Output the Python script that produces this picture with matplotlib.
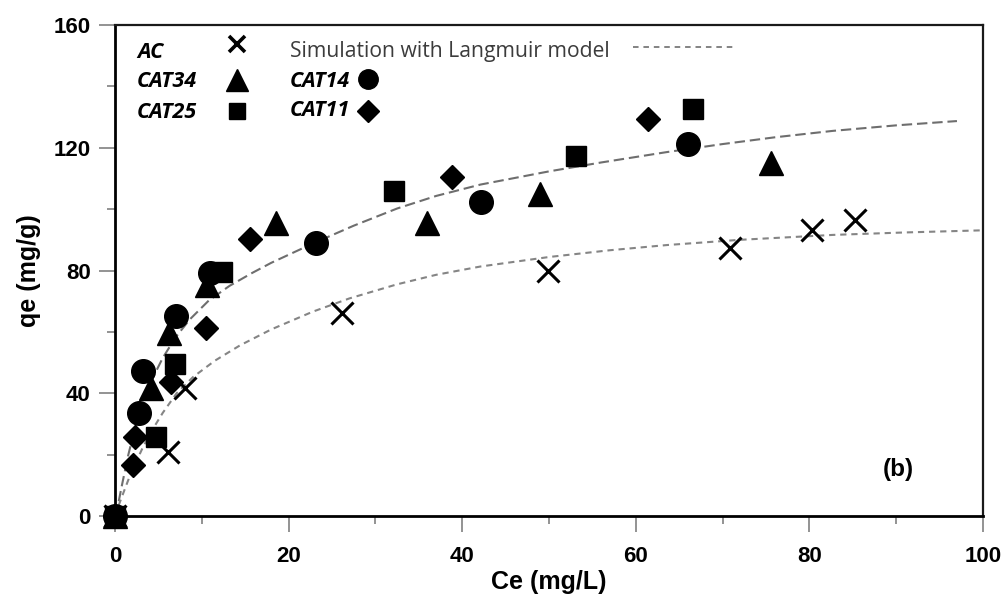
import matplotlib
matplotlib.use("Agg")
import matplotlib.pyplot as plt
from matplotlib.ticker import MultipleLocator

# experimental points (Ce in mg/L, qe in mg/g)
ac_x = [0, 6.1, 8.1, 26.1, 49.9, 70.9, 80.3, 85.3]
ac_y = [0, 20.8, 41.7, 66.1, 79.8, 87.3, 93.2, 96.4]

cat34_x = [0, 4.2, 6.2, 10.6, 18.5, 35.9, 49.0, 75.6]
cat34_y = [0, 41.8, 59.8, 75.2, 95.4, 95.4, 104.9, 115.0]

cat25_x = [0, 4.7, 6.9, 12.3, 32.1, 53.1, 66.6]
cat25_y = [0, 25.7, 49.5, 79.5, 105.9, 117.3, 132.6]

cat14_x = [0, 2.8, 3.2, 7.0, 10.9, 23.2, 42.2, 66.0]
cat14_y = [0, 33.5, 47.2, 65.1, 79.2, 88.9, 102.3, 121.2]

cat11_x = [0, 2.1, 2.3, 6.5, 10.5, 15.6, 38.8, 61.4]
cat11_y = [0, 16.6, 25.7, 43.6, 61.2, 90.2, 110.4, 129.3]

# Langmuir simulation curves
sim_hi_x = [0, 0.2, 0.8, 1.5, 2.2, 2.9, 4.0, 5.5, 7.0, 8.6, 10.8, 13.2, 15.8, 18.0,
            22.8, 27.5, 32.5, 37.0, 42.1, 50.0, 56.0, 63.6, 70.0, 76.0, 82.7, 90.0, 97.0]
sim_hi_y = [0, 1.5, 10.0, 19.5, 27.5, 34.5, 43.0, 51.5, 58.3, 64.0, 70.2, 75.0, 79.2, 82.5,
            88.8, 94.6, 100.2, 104.3, 108.0, 112.3, 115.2, 118.6, 121.2, 123.4, 125.5, 127.3, 128.7]

sim_lo_x = [0, 0.6, 1.5, 2.2, 3.2, 4.2, 5.5, 7.1, 9.0, 11.5, 14.4, 18.0, 22.8, 27.0,
            32.5, 37.0, 42.1, 50.0, 57.0, 63.6, 72.0, 82.7, 91.0, 100.0]
sim_lo_y = [0, 4.8, 11.5, 16.2, 22.3, 27.6, 33.6, 40.0, 45.3, 50.6, 55.6, 60.8, 66.6, 70.9,
            75.5, 78.6, 81.3, 84.4, 86.6, 88.3, 90.0, 91.6, 92.4, 93.1]

plt.rcParams["lines.scale_dashes"] = False

fig = plt.figure(figsize=(10.05, 6.01), dpi=100)
ax = fig.add_axes([0.1144, 0.1414, 0.8637, 0.8170])

ax.plot(sim_hi_x, sim_hi_y, color="#6e6e6e", lw=1.5, dashes=(7.5, 3.5))
ax.plot(sim_lo_x, sim_lo_y, color="#858585", lw=1.5, dashes=(4.5, 3.5))

mk = dict(linestyle="none", color="black", clip_on=False, zorder=3)
ax.plot(ac_x, ac_y, marker="x", markersize=16, markeredgewidth=2.2, **mk)
ax.plot(cat34_x, cat34_y, marker="^", markersize=17, **mk)
ax.plot(cat25_x, cat25_y, marker="s", markersize=15, **mk)
ax.plot(cat14_x, cat14_y, marker="o", markersize=17, **mk)
ax.plot(cat11_x, cat11_y, marker="D", markersize=12.5, **mk)

ax.set_xlim(0, 100)
ax.set_ylim(0, 160)
ax.xaxis.set_major_locator(MultipleLocator(20))
ax.xaxis.set_minor_locator(MultipleLocator(10))
ax.yaxis.set_major_locator(MultipleLocator(40))
ax.yaxis.set_minor_locator(MultipleLocator(20))

ax.tick_params(which="both", direction="out", color="#8a8a8a", width=1.3)
ax.tick_params(which="major", length=11.5)
ax.tick_params(which="minor", length=6)
ax.tick_params(axis="x", which="major", pad=10)
ax.tick_params(axis="y", which="major", pad=6)
for lab in ax.get_xticklabels() + ax.get_yticklabels():
    lab.set_fontfamily("Liberation Sans")
    lab.set_fontweight("bold")
    lab.set_fontsize(16)

for s in ax.spines.values():
    s.set_linewidth(1.6)
    s.set_color("#1a1a1a")
ax.spines["left"].set_linewidth(2)
ax.spines["bottom"].set_linewidth(2)
ax.spines["left"].set_color("black")
ax.spines["bottom"].set_color("black")

lab_font = dict(family="Liberation Sans", weight="bold", size=18)
ax.set_xlabel("Ce (mg/L)", labelpad=2, **lab_font)
ax.set_ylabel("qe (mg/g)", labelpad=9, **lab_font)

# legend, drawn by hand to keep its two-column layout
tr = ax.transAxes
leg_font = dict(family="Open Sans", style="italic", weight="bold", size=15.5,
                va="center", ha="left", transform=tr)
ax.text(0.0253, 0.944, "AC", **leg_font)
ax.text(0.0253, 0.885, "CAT34", **leg_font)
ax.text(0.0253, 0.822, "CAT25", **leg_font)
ax.text(0.2016, 0.885, "CAT14", **leg_font)
ax.text(0.2016, 0.825, "CAT11", **leg_font)
ax.text(0.2016, 0.947, "Simulation with Langmuir model", family="Open Sans", size=15.2,
        color="#3c3c3c", va="center", ha="left", transform=tr)

lk = dict(linestyle="none", color="black", transform=tr, clip_on=False)
ax.plot([0.1406], [0.9613], marker="x", markersize=11, markeredgewidth=2.6, **lk)
ax.plot([0.1406], [0.888], marker="^", markersize=16, **lk)
ax.plot([0.1406], [0.824], marker="s", markersize=11.5, **lk)
ax.plot([0.2915], [0.890], marker="o", markersize=14, **lk)
ax.plot([0.2915], [0.825], marker="D", markersize=11.5, **lk)
ax.plot([0.597, 0.7143], [0.955, 0.955], color="#7a7a7a", lw=1.3, dashes=(4, 3.5), transform=tr)

ax.text(0.902, 0.094, "(b)", family="Liberation Sans", weight="bold", size=17.5,
        ha="center", va="center", transform=tr)

fig.savefig("out.png", dpi=100)
